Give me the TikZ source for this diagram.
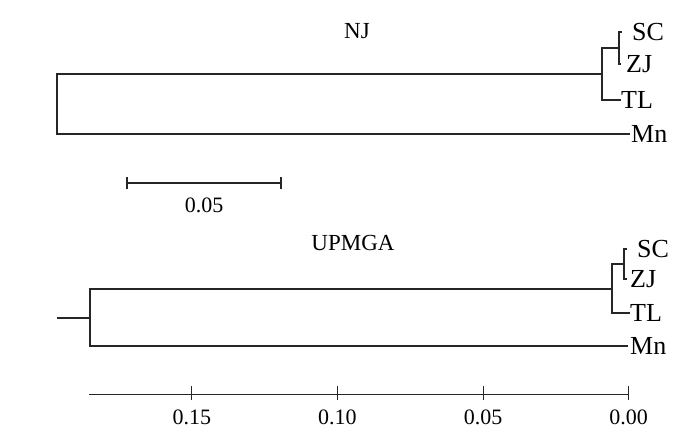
\documentclass[tikz,border=0pt]{standalone}
\usepackage{fontspec}
\setmainfont{Liberation Serif}
\usepackage{tikz}

\begin{document}
\begin{tikzpicture}[x=1pt,y=-1pt,
    branch/.style={line width=1.1pt,draw=black!85},
    taxon/.style={anchor=west,inner sep=0pt,font=\fontsize{26}{26}\selectfont},
    title/.style={inner sep=0pt,font=\fontsize{23}{23}\selectfont},
    num/.style={inner sep=0pt,font=\fontsize{22}{22}\selectfont}]
        \useasboundingbox (0,0) rectangle (700,440);

        \node[title] (njtitle) at (357,31) {NJ};
        \coordinate (nj0) at (57,104);
        \coordinate (nj1) at (602,74);
        \coordinate (nj2) at (619,48);
        \node[taxon,xshift=10pt] (njSC) at (622,32) {SC};
        \node[taxon,xshift=5pt] (njZJ) at (621,64) {ZJ};
        \node[taxon] (njTL) at (621,100) {TL};
        \node[taxon] (njMn) at (631,134) {Mn};
        \draw[branch] (nj1) -| (nj0) |- ([xshift=-1pt]njMn.west);
        \draw[branch] (nj2) -| (nj1) |- (njTL.west);
        \draw[branch] ([xshift=-10pt]njSC.west) -| (nj2) |- ([xshift=-5pt]njZJ.west);

        \coordinate (barL) at (127,183);
        \coordinate (barR) at (281,183);
        \draw[branch] (barL) -- (barR);
        \draw[branch] ([yshift=-6pt]barL) -- ([yshift=6pt]barL);
        \draw[branch] ([yshift=-6pt]barR) -- ([yshift=6pt]barR);
        \node[num] (barlabel) at (204,205) {0.05};

        \node[title] (uptitle) at (353,243) {UPMGA};
        \coordinate (upstub) at (57,318);
        \coordinate (up0) at (90,318);
        \coordinate (up1) at (612,289);
        \coordinate (up2) at (624,264);
        \node[taxon,xshift=10pt] (upSC) at (627,249) {SC};
        \node[taxon,xshift=3pt] (upZJ) at (627,279) {ZJ};
        \node[taxon] (upTL) at (630,313) {TL};
        \node[taxon,xshift=2pt] (upMn) at (628,346) {Mn};
        \draw[branch] (upstub) -- (up0);
        \draw[branch] (up1) -| (up0) |- ([xshift=-2pt]upMn.west);
        \draw[branch] (up2) -| (up1) |- (upTL.west);
        \draw[branch] ([xshift=-10pt]upSC.west) -| (up2) |- ([xshift=-3pt]upZJ.west);

        \coordinate (axisL) at (89,394);
        \coordinate (axisR) at (628.6,394);
        \draw[branch,line width=0.9pt] (axisL) -- (axisR);
        \foreach \k/\val in {0/0.00,1/0.05,2/0.10,3/0.15} {
            \draw[branch,line width=0.9pt] ([xshift=-\k*145.6pt,yshift=8pt]axisR) -- ([xshift=-\k*145.6pt,yshift=-6pt]axisR);
            \node[num] (tick\k) at ([xshift=-\k*145.6pt,yshift=-23pt]axisR) {\val};
        }
\end{tikzpicture}
\end{document}
